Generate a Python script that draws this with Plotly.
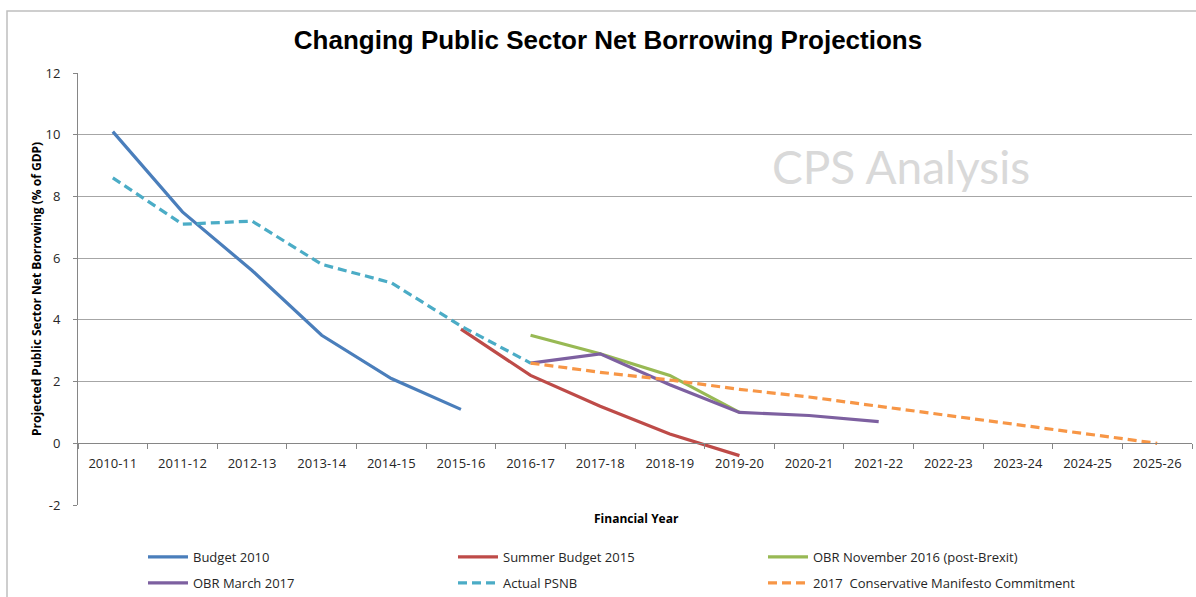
import plotly.graph_objects as go

# Financial years on the category axis
years = ["2010-11", "2011-12", "2012-13", "2013-14", "2014-15", "2015-16",
         "2016-17", "2017-18", "2018-19", "2019-20", "2020-21", "2021-22",
         "2022-23", "2023-24", "2024-25", "2025-26"]

# Public sector net borrowing, % of GDP
budget_2010_years = years[0:6]
budget_2010 = [10.1, 7.5, 5.6, 3.5, 2.1, 1.1]

summer_budget_2015_years = years[5:10]
summer_budget_2015 = [3.7, 2.2, 1.2, 0.3, -0.4]

obr_nov_2016_years = years[6:10]
obr_nov_2016 = [3.5, 2.9, 2.2, 1.0]

obr_mar_2017_years = years[6:12]
obr_mar_2017 = [2.6, 2.9, 1.9, 1.0, 0.9, 0.7]

actual_psnb_years = years[0:7]
actual_psnb = [8.6, 7.1, 7.2, 5.8, 5.2, 3.8, 2.6]

manifesto_2017_years = years[6:16]
manifesto_2017 = [2.6, 2.3, 2.05, 1.75, 1.5, 1.2, 0.9, 0.6, 0.3, 0.0]

y_ticks = [-2, 0, 2, 4, 6, 8, 10, 12]
y_tick_labels = ["-2", "0", "2", "4", "6", "8", "10", "12"]

W, H = 1196, 597
L, R, T, B = 78, 4, 73, 92
PW, PH = W - L - R, H - T - B


def px_x(x):
    return (x - L) / PW


def px_y(y):
    return (H - B - y) / PH


FONT = "Open Sans, Noto Sans, sans-serif"
TEXT = "#262626"
AXIS = "#868686"
GRID = "#a6a6a6"

# name, x, y, colour, dash, legend column, legend row
series = [
    ("Budget 2010", budget_2010_years, budget_2010, "#4a7ebb", "solid", 0, 0),
    ("Summer Budget 2015", summer_budget_2015_years, summer_budget_2015, "#be4b48", "solid", 1, 0),
    ("OBR November 2016 (post-Brexit)", obr_nov_2016_years, obr_nov_2016, "#98b954", "solid", 2, 0),
    ("OBR March 2017", obr_mar_2017_years, obr_mar_2017, "#7d60a0", "solid", 0, 1),
    ("Actual PSNB", actual_psnb_years, actual_psnb, "#4bacc6", "9px,5px", 1, 1),
    ("2017  Conservative Manifesto Commitment", manifesto_2017_years, manifesto_2017, "#f79646", "9px,5px", 2, 1),
]

legend_cols = [143, 453, 763]
legend_rows = [557, 583]

fig = go.Figure()
legend_layout = {}
for i, (name, xs, ys, color, dash, col, row) in enumerate(series):
    key = "legend" if i == 0 else f"legend{i + 1}"
    fig.add_trace(go.Scatter(
        x=xs, y=ys, name=name, mode="lines", legend=key,
        line=dict(color=color, width=3.2, dash=dash),
    ))
    legend_layout[key] = dict(
        x=px_x(legend_cols[col]), y=px_y(legend_rows[row]),
        xanchor="left", yanchor="middle", orientation="h", itemwidth=40,
        font=dict(family=FONT, size=13, color=TEXT),
        bgcolor="rgba(0,0,0,0)",
    )

fig.update_layout(
    width=W, height=H,
    margin=dict(l=L, r=R, t=T, b=B, autoexpand=False),
    paper_bgcolor="white", plot_bgcolor="white",
    showlegend=True,
    title=dict(
        text="<b>Changing Public Sector Net Borrowing Projections</b>",
        x=608 / W, xanchor="center", y=1 - 40 / H, yanchor="middle",
        font=dict(family="Liberation Sans, Arial, sans-serif", size=26, color="#000000"),
    ),
    xaxis=dict(
        type="category", categoryorder="array", categoryarray=years,
        range=[-0.5, len(years) - 0.5],
        anchor="free", position=2 / 14,
        showline=True, linecolor=AXIS, linewidth=1,
        ticks="outside", tickson="boundaries", ticklen=5, tickcolor=AXIS,
        showgrid=False, zeroline=False,
        tickfont=dict(family=FONT, size=13, color=TEXT),
        ticklabelstandoff=8,
    ),
    yaxis=dict(
        range=[-2, 12], tickmode="array", tickvals=y_ticks, ticktext=y_tick_labels,
        showline=True, linecolor=AXIS, linewidth=1,
        ticks="outside", ticklen=4, tickcolor=AXIS,
        showgrid=True, gridcolor=GRID, gridwidth=1, zeroline=False,
        tickfont=dict(family=FONT, size=13, color=TEXT),
        ticklabelstandoff=10,
    ),
    annotations=[
        dict(text="CPS Analysis", xref="paper", yref="paper",
             x=px_x(901), y=px_y(166), xanchor="center", yanchor="middle",
             showarrow=False,
             font=dict(family="Lato, Open Sans, sans-serif", size=46, color="#d9d9d9")),
        dict(text="<b>Financial Year</b>", xref="paper", yref="paper",
             x=px_x(636), y=px_y(518), xanchor="center", yanchor="middle",
             showarrow=False, font=dict(family=FONT, size=12, color="#000000")),
        dict(text="<b>Projected Public Sector Net Borrowing (% of GDP)</b>",
             xref="paper", yref="paper", textangle=-90,
             x=px_x(36), y=px_y(289), xanchor="center", yanchor="middle",
             showarrow=False, font=dict(family=FONT, size=12, color="#000000")),
    ],
    shapes=[
        dict(type="rect", xref="paper", yref="paper",
             x0=px_x(7), x1=px_x(1210), y0=px_y(610), y1=px_y(11),
             line=dict(color="#bfbfbf", width=1.5), fillcolor="rgba(0,0,0,0)",
             layer="below"),
    ],
    **legend_layout,
)

fig.write_html("out.html")
